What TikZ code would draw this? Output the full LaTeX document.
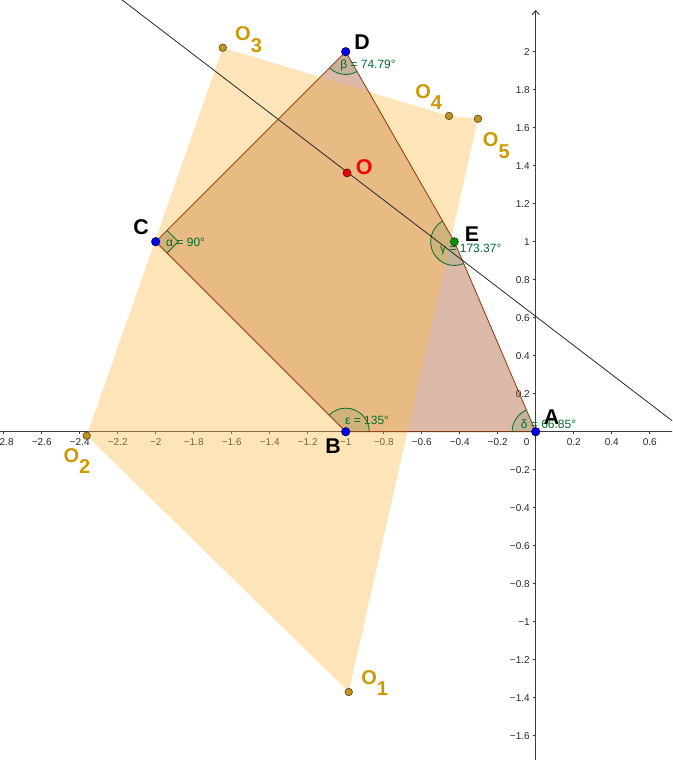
\documentclass[tikz,border=0pt]{standalone}
\usepackage{fontspec}
\setmainfont{Liberation Sans}
\usetikzlibrary{arrows.meta}
\definecolor{axiscol}{RGB}{60,60,60}
\definecolor{ticktxt}{RGB}{40,40,40}
\definecolor{pentcol}{RGB}{153,51,0}
\definecolor{orangecol}{RGB}{250,188,80}
\definecolor{anglecol}{RGB}{0,110,40}
\definecolor{goldtxt}{RGB}{204,153,0}
\definecolor{golddot}{RGB}{190,150,35}
\definecolor{golddraw}{RGB}{95,75,10}
\definecolor{bluedot}{RGB}{0,0,230}
\definecolor{bluedraw}{RGB}{0,0,110}
\definecolor{greendot}{RGB}{0,150,0}
\definecolor{greendraw}{RGB}{0,70,0}
\definecolor{reddot}{RGB}{230,0,0}
\definecolor{reddraw}{RGB}{120,0,0}
\definecolor{linecol}{RGB}{40,40,40}
\tikzset{
  axisline/.style={draw=axiscol, line width=0.7pt},
  tickmark/.style={draw=axiscol, line width=0.5pt},
  xlab/.style={anchor=base, inner sep=0pt, font=\fontsize{7.5}{8}\selectfont, text=ticktxt, yshift=-10.5pt},
  ylab/.style={anchor=east, inner sep=0pt, font=\fontsize{7.5}{8}\selectfont, text=ticktxt, xshift=-4.3pt},
  ptlab/.style={inner sep=0pt, font=\fontsize{16}{18}\selectfont\bfseries},
  olab/.style={anchor=base west, inner sep=0pt, font=\fontsize{15}{18}\selectfont\bfseries, text=goldtxt},
  anglab/.style={anchor=base west, inner sep=0pt, font=\fontsize{9}{10}\selectfont, text=anglecol},
  angfill/.style={fill=anglecol, fill opacity=0.1},
  angarc/.style={draw=anglecol, line width=0.6pt},
  dot/.style={circle, inner sep=0pt, line width=0.5pt},
  bluept/.style={dot, minimum size=6.3pt, fill=bluedot, draw=bluedraw},
  greenpt/.style={dot, minimum size=6pt, fill=greendot, draw=greendraw},
  redpt/.style={dot, minimum size=6pt, fill=reddot, draw=reddraw},
  goldpt/.style={dot, minimum size=5.6pt, fill=golddot, draw=golddraw},
  pentedge/.style={draw=pentcol, line width=0.6pt},
}
\begin{document}
\begin{tikzpicture}[x=142.5pt,y=142.5pt]
\clip (-2.8195,-1.7279) rectangle (0.7174,2.2721);
% points
\coordinate (A) at (0,0);
\coordinate (B) at (-1,0);
\coordinate (C) at (-2,1);
\coordinate (D) at (-1,2);
\coordinate (E) at (-0.428,1.0);
\coordinate (O) at (-0.993,1.362);
\coordinate (O1) at (-0.984,-1.370);
\coordinate (O2) at (-2.363,-0.021);
\coordinate (O3) at (-1.647,2.021);
\coordinate (O4) at (-0.456,1.662);
\coordinate (O5) at (-0.304,1.647);
\coordinate (L1) at (-2.3,2.3665);
\coordinate (L2) at (0.8,-0.005);
\coordinate (XL) at (-2.9,0);
\coordinate (XR) at (0.8,0);
\coordinate (YB) at (0,-1.8);
\coordinate (YT) at (0,2.2195);
% axes
\draw[axisline] (XL) -- (XR);
\draw[axisline,-{Straight Barb[length=3pt,width=5.5pt]}] (YB) -- (YT);
\foreach \v in {-2.8,-2.6,...,0.7} \draw[tickmark] (\v,0) -- ++(0,-2pt);
\foreach \v in {-1.6,-1.4,...,2.1} \draw[tickmark] (0,\v) -- ++(-2pt,0);
\foreach \v/\t in {-2.8/−2.8,-2.6/−2.6,-2.4/−2.4,-2.2/−2.2,-2/−2,-1.8/−1.8,-1.6/−1.6,-1.4/−1.4,-1.2/−1.2,-1/−1,-0.8/−0.8,-0.6/−0.6,-0.4/−0.4,-0.2/−0.2,0.2/0.2,0.4/0.4,0.6/0.6}
  \node[xlab] (xl\v) at (\v,0) {\t};
\node[xlab] (xl0) at (-0.047,0) {0};
\foreach \v/\t in {2/2,1.8/1.8,1.6/1.6,1.4/1.4,1.2/1.2,1/1,0.8/0.8,0.6/0.6,0.4/0.4,0.2/0.2,-0.2/−0.2,-0.4/−0.4,-0.6/−0.6,-0.8/−0.8,-1/−1,-1.2/−1.2,-1.4/−1.4,-1.6/−1.6}
  \node[ylab] (yl\v) at (0,\v) {\t};
% fills
\fill[pentcol, opacity=0.34] (A) -- (B) -- (C) -- (D) -- (E) -- cycle;
\fill[orangecol, opacity=0.4] (O1) -- (O2) -- (O3) -- (O4) -- (O5) -- cycle;
% pentagon edges
\draw[pentedge] (A) -- (B) -- (C) -- (D) -- (E) -- cycle;
% angles
\fill[angfill] (C) -- ++(45:0.0840) -- ++(-45:0.0840) -- ++(225:0.0840) -- cycle;
\draw[angarc] (C) ++(45:0.0840) -- ++(-45:0.0840) -- ++(225:0.0840);
\fill[angfill] (D) -- ++(225:0.12) arc[start angle=225,end angle=299.78,radius=0.12] -- cycle;
\draw[angarc] (D) ++(225:0.12) arc[start angle=225,end angle=299.78,radius=0.12];
\fill[angfill] (E) -- ++(119.78:0.125) arc[start angle=119.78,end angle=293.17,radius=0.125] -- cycle;
\draw[angarc] (E) ++(119.78:0.125) arc[start angle=119.78,end angle=293.17,radius=0.125];
\fill[angfill] (A) -- ++(113.17:0.124) arc[start angle=113.17,end angle=180,radius=0.124] -- cycle;
\draw[angarc] (A) ++(113.17:0.124) arc[start angle=113.17,end angle=180,radius=0.124];
\fill[angfill] (B) -- ++(0:0.124) arc[start angle=0,end angle=135,radius=0.124] -- cycle;
\draw[angarc] (B) ++(0:0.124) arc[start angle=0,end angle=135,radius=0.124];
% line
\draw[linecol, line width=0.6pt] (L1) -- (L2);
% angle labels
\node[anglab] (la) at (-1.946,0.976) {α = 90°};
\node[anglab] (lb) at (-1.030,1.914) {β = 74.79°};
\node[anglab] (lg) at (-0.504,0.944) {γ = 173.37°};
\node[anglab] (ld) at (-0.079,0.018) {δ = 66.85°};
\node[anglab] (le) at (-1.004,0.040) {ε = 135°};
% dots
\node[bluept] (Ad) at (A) {};
\node[bluept] (Bd) at (B) {};
\node[bluept] (Cd) at (C) {};
\node[bluept] (Dd) at (D) {};
\node[greenpt] (Ed) at (E) {};
\node[redpt] (Od) at (O) {};
\node[goldpt] (O1d) at (O1) {};
\node[goldpt] (O2d) at (O2) {};
\node[goldpt] (O3d) at (O3) {};
\node[goldpt] (O4d) at (O4) {};
\node[goldpt] (O5d) at (O5) {};
% point labels
\node[ptlab] (Al) at (0.083,0.077) {A};
\node[ptlab] (Bl) at (-1.067,-0.075) {B};
\node[ptlab] (Cl) at (-2.077,1.077) {C};
\node[ptlab] (Dl) at (-0.914,2.051) {D};
\node[ptlab] (El) at (-0.336,1.040) {E};
\node[ptlab, text=red] (Ol) at (-0.903,1.392) {O};
\node[olab] (O1l) at (-0.9195,-1.328) {O\raisebox{-8.5pt}{1}};
\node[olab] (O2l) at (-2.486,-0.1595) {O\raisebox{-8.5pt}{2}};
\node[olab] (O3l) at (-1.583,2.058) {O\raisebox{-8.5pt}{3}};
\node[olab] (O4l) at (-0.635,1.756) {O\raisebox{-8.5pt}{4}};
\node[olab] (O5l) at (-0.279,1.500) {O\raisebox{-8.5pt}{5}};
\end{tikzpicture}
\end{document}
